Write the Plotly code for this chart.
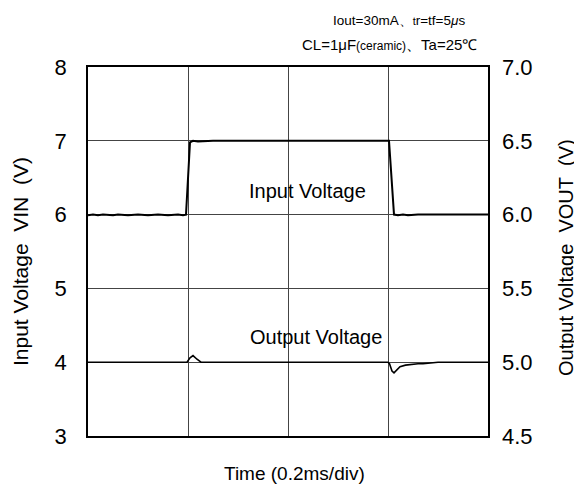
import plotly.graph_objects as go

# Time in ms (0.2 ms/div, 4 divisions)
t_in = [0.0, 0.01, 0.02, 0.03, 0.05, 0.06, 0.08, 0.10, 0.12, 0.14, 0.16, 0.18, 0.19, 0.196,
        0.204, 0.21, 0.22, 0.25, 0.30, 0.35, 0.40, 0.45, 0.50, 0.55, 0.60, 0.602,
        0.612, 0.62, 0.63, 0.64, 0.66, 0.68, 0.70, 0.72, 0.74, 0.76, 0.78, 0.8]
v_in = [5.99, 6.0, 5.99, 6.0, 5.99, 6.0, 5.99, 6.0, 5.99, 6.0, 5.99, 6.0, 5.99, 6.0,
        6.98, 7.0, 6.99, 7.0, 7.0, 7.0, 7.0, 7.0, 7.0, 7.0, 7.0, 7.0,
        6.0, 5.99, 6.0, 5.99, 6.0, 6.0, 5.99, 6.0, 5.99, 6.0, 5.99, 6.0]

t_out = [0.0, 0.05, 0.06, 0.08, 0.10, 0.12, 0.14, 0.16, 0.18, 0.198, 0.204, 0.21, 0.218, 0.226,
         0.30, 0.40, 0.50, 0.55, 0.60, 0.603, 0.608, 0.612, 0.618, 0.624, 0.635, 0.644,
         0.66, 0.67, 0.68, 0.70, 0.75, 0.8]
v_out = [5.0, 5.0, 4.995, 5.0, 4.995, 5.0, 4.995, 5.0, 4.995, 5.0, 5.03, 5.045, 5.02, 5.0,
         5.0, 5.0, 5.0, 5.0, 5.0, 4.99, 4.94, 4.928, 4.95, 4.97, 4.98, 4.985,
         4.99, 4.99, 4.995, 5.0, 5.0, 5.0]

left_ticks = [3, 4, 5, 6, 7, 8]
right_ticks = [4.5, 5.0, 5.5, 6.0, 6.5, 7.0]

FONT = "Liberation Sans, Arial, sans-serif"

# page is offset by the 8px body margin
W, H = 574, 478
ML, MR, MT, MB = 80, 94, 59, 50
PX0, PX1 = 8 + ML, 8 + W - MR
PY0, PY1 = 8 + MT, 8 + H - MB


def px(x):
    return (x - PX0) / (PX1 - PX0)


def py(y):
    return (PY1 - y) / (PY1 - PY0)


def note(text, x, y, size, xanchor="center", angle=0):
    return dict(text=text, x=px(x), y=py(y), xref="paper", yref="paper",
                showarrow=False, font=dict(size=size), textangle=angle,
                xanchor=xanchor, yanchor="middle")


fig = go.Figure()
fig.add_trace(go.Scatter(x=t_in, y=v_in, mode="lines", line=dict(color="black", width=2),
                         showlegend=False, hoverinfo="skip"))
fig.add_trace(go.Scatter(x=t_out, y=v_out, mode="lines", line=dict(color="black", width=1.6),
                         yaxis="y2", showlegend=False, hoverinfo="skip"))

fig.update_layout(
    width=W, height=H,
    margin=dict(l=ML, r=MR, t=MT, b=MB),
    paper_bgcolor="white", plot_bgcolor="white",
    font=dict(family=FONT, color="black"),
    xaxis=dict(range=[0, 0.8], dtick=0.2, tick0=0, showticklabels=False, ticks="",
               showgrid=True, gridcolor="#444444", gridwidth=1, zeroline=False,
               showline=True, linecolor="black", linewidth=1.8, mirror=True),
    yaxis=dict(range=[3, 8], tickvals=left_ticks, ticktext=[str(v) for v in left_ticks],
               ticks="", showgrid=True, gridcolor="#444444", gridwidth=1, zeroline=False,
               showline=True, linecolor="black", linewidth=1.8, mirror=True,
               tickfont=dict(size=22), ticklabelstandoff=15),
    yaxis2=dict(range=[4.5, 7.0], overlaying="y", side="right",
                tickvals=right_ticks, ticktext=[f"{v:.1f}" for v in right_ticks],
                ticks="", showgrid=False, zeroline=False, showline=False,
                tickfont=dict(size=22), ticklabelstandoff=13),
    annotations=[
        note("Input Voltage", 307, 191, 20),
        note("Output Voltage", 316, 337, 20),
        note("Time (0.2ms/div)", 294, 474, 19),
        note("Input Voltage&nbsp;&nbsp;VIN&nbsp;&nbsp;(V)", 20, 262, 21, angle=-90),
        note("Output Voltage&nbsp;&nbsp;VOUT&nbsp;&nbsp;(V)", 566, 258, 20, angle=-90),
        note("Iout=30mA、<span style='font-size:11px'>t</span>r=tf=5<i>μ</i>s",
             467, 20, 13.5, xanchor="right"),
        note("CL=1μF<span style='font-size:12px'>(ceramic)</span>、Ta=25℃",
             479, 45, 15, xanchor="right"),
    ],
)

fig.write_html("out.html")
